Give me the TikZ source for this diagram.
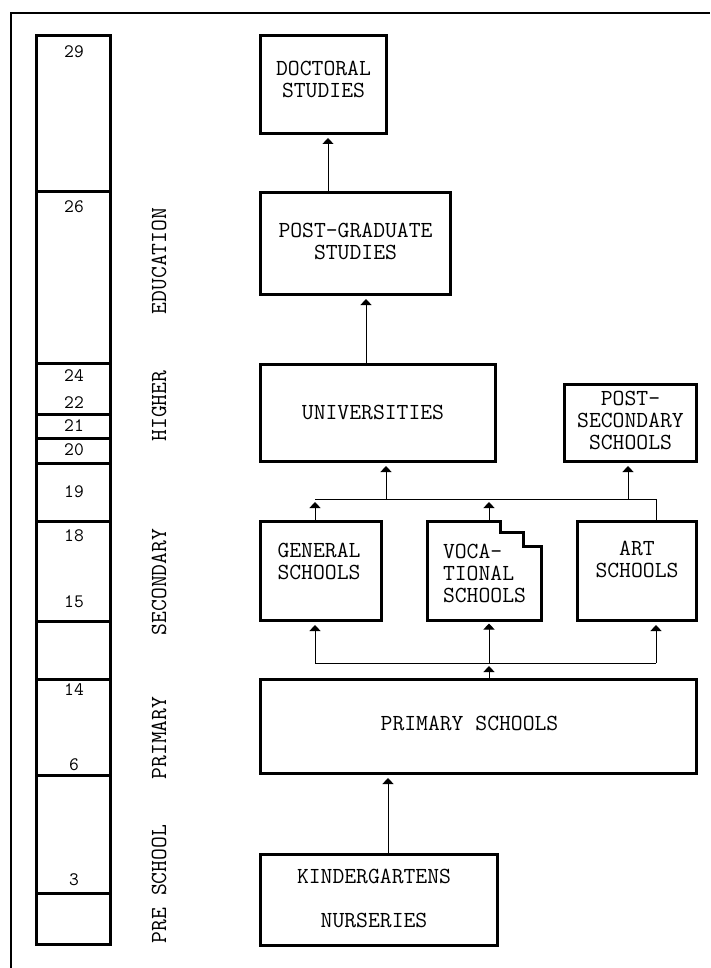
\documentclass[tikz,border=0pt]{standalone}
\usetikzlibrary{arrows.meta}

\begin{document}
\begin{tikzpicture}[x=1pt,y=-1pt,
	box/.style={rectangle,draw=black,line width=3pt,inner sep=0pt},
	boxtxt/.style={font=\fontsize{23}{22}\selectfont\ttfamily,align=center,inner sep=0pt},
	agetxt/.style={font=\fontsize{19}{19}\selectfont\ttfamily,inner sep=0pt},
	stagetxt/.style={font=\fontsize{23}{23}\selectfont\ttfamily,rotate=90,inner sep=0pt},
	arr/.style={line width=1pt,-{Triangle[width=11pt,length=6pt]},shorten >=3pt},
	link/.style={line width=1pt}]
		\useasboundingbox (0,0) rectangle (710,968);
		\draw[line width=1.5pt] (11,968) -- (11,13) -- (710,13);
		% age scale
		\draw[line width=3pt] (36.5,35.5) rectangle (110.5,944.5);
		\foreach \y in {192,363,414,438,463,521,621,679,775,893}
			\draw[line width=3pt] (36.5,\y) -- (110.5,\y);
		\foreach \a/\y in {29/52,26/207,24/376,22/403,21/426,20/450,19/492,18/536,15/602,14/690,6/765,3/880}
			\node[agetxt] (age\a) at (74,\y) {\a};
		\foreach \s/\y in {EDUCATION/261,HIGHER/406,SECONDARY/582,PRIMARY/738,PRE SCHOOL/884}
			\node[stagetxt] (stage\y) at (159,\y) {\s};
		% schools
		\node[box,minimum width=126,minimum height=98] (doctoral) at (323.5,84.5) {};
		\node[boxtxt] (doctoral-t) at ([yshift=5.5pt]doctoral.center) {DOCTORAL\\STUDIES};
		\node[box,minimum width=190,minimum height=102] (postgrad) at (355.5,243.5) {};
		\node[boxtxt] (postgrad-t) at ([yshift=2.5pt]postgrad.center) {POST-GRADUATE\\STUDIES};
		\node[box,minimum width=235,minimum height=97] (univ) at (378,413) {};
		\node[boxtxt] (univ-t) at ([xshift=-5pt,yshift=1pt]univ.center) {UNIVERSITIES};
		\node[box,minimum width=132,minimum height=77] (postsec) at (630.5,423) {};
		\node[boxtxt] (postsec-t) at ([yshift=3pt]postsec.center) {POST-\\SECONDARY\\SCHOOLS};
		\node[box,minimum width=121,minimum height=99] (general) at (321,571) {};
		\node[boxtxt] (general-t) at ([xshift=-2pt,yshift=10pt]general.center) {GENERAL\\SCHOOLS};
		\node[rectangle,inner sep=0pt,outer sep=0pt,minimum width=114,minimum height=99] (voc) at (484.5,571) {};
		\draw[line width=3pt] (voc.south west) -- (voc.north west) -- ++(73,0) -- ++(0,11)
			-- ++(22.6,0) -- ++(0,14.4) -| (voc.south east) -- cycle;
		\node[boxtxt,align=left] (voc-t) at ([yshift=-2pt]voc.center) {VOCA-\\TIONAL\\SCHOOLS};
		\node[box,minimum width=119,minimum height=99] (art) at (637,571) {};
		\node[boxtxt] (art-t) at ([yshift=12pt]art.center) {ART\\SCHOOLS};
		\node[box,minimum width=436,minimum height=94] (primary) at (478.5,726.5) {};
		\node[boxtxt] (primary-t) at ([xshift=-9pt,yshift=3.5pt]primary.center) {PRIMARY SCHOOLS};
		\node[box,minimum width=237,minimum height=91] (kinder) at (379,900) {};
		\node[boxtxt] (kinder-t) at ([xshift=-5pt,yshift=2pt]kinder.center) {KINDERGARTENS\\[22pt]NURSERIES};
		% upper branch
		\coordinate (upL) at (315,499);
		\coordinate (upR) at (656,499);
		\coordinate (upU) at (386,499);
		\coordinate (upV) at (489,499);
		\coordinate (upP) at (628,499);
		\draw[link] (upL) -- (upR);
		\draw[arr] (upL |- general.north) -- (upL);
		\draw[arr] (upV |- voc.north) -- (upV);
		\draw[link] (upR |- art.north) -- (upR);
		\draw[arr] (upU) -- (upU |- univ.south);
		\draw[arr] (upP) -- (upP |- postsec.south);
		% lower branch
		\coordinate (loL) at (315,663);
		\coordinate (loR) at (656,663);
		\coordinate (loV) at (489,663);
		\draw[link] (loL) -- (loR);
		\draw[arr] (loL) -- (loL |- general.south);
		\draw[arr] (loV) -- (loV |- voc.south);
		\draw[arr] (loR) -- (loR |- art.south);
		\draw[arr] (loV |- primary.north) -- (loV);
		% single arrows
		\draw[arr] ([xshift=4.5pt]doctoral.south |- postgrad.north) -- ([xshift=4.5pt]doctoral.south);
		\draw[arr] ([xshift=-12pt]univ.north) -- ([xshift=-12pt]univ.north |- postgrad.south);
		\draw[arr] ([xshift=9pt]kinder.north) -- ([xshift=9pt]kinder.north |- primary.south);
	\end{tikzpicture}
\end{document}
